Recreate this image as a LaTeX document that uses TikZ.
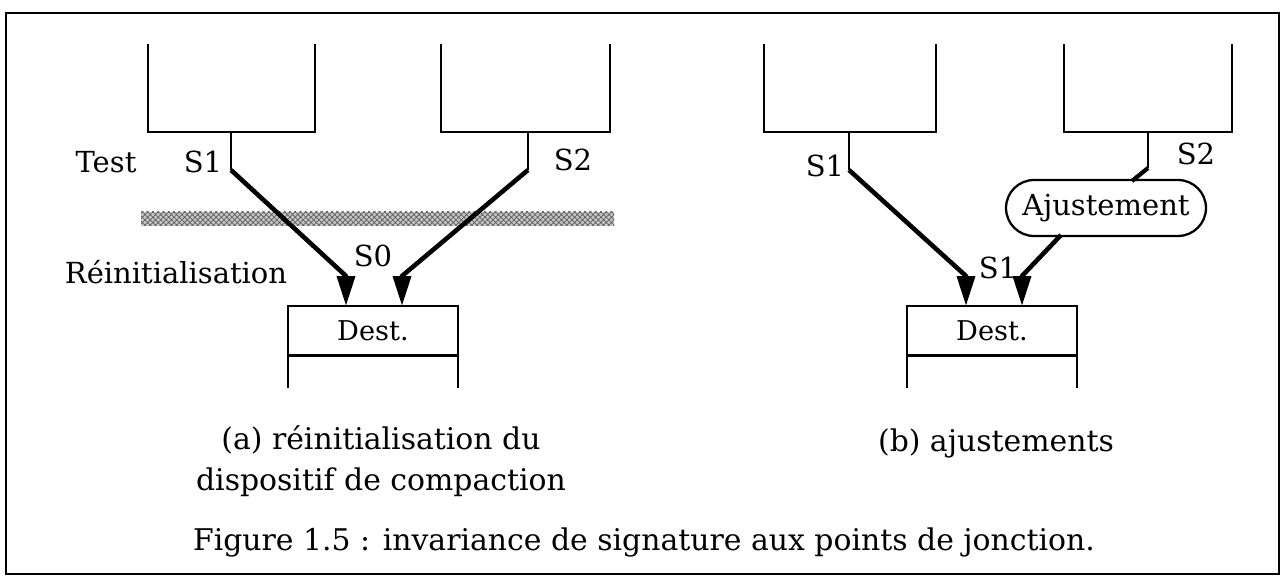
\documentclass[tikz,border=0pt]{standalone}
\usepackage{fontspec}
\setmainfont{DejaVu Serif}
\usetikzlibrary{arrows.meta,patterns,shapes.misc}
\begin{document}
\begin{tikzpicture}[x=0.02cm,y=-0.02cm,
  lbl/.style={font=\fontsize{16.5}{19}\selectfont, inner sep=0pt},
  caplbl/.style={font=\fontsize{17}{20}\selectfont, inner sep=0pt},
  openbox/.style={line width=1.2pt},
  wire/.style={line width=1.2pt},
  flow/.style={line width=2.6pt, line join=round, -{Triangle[length=17pt,width=10pt]}},
  destbox/.style={draw, line width=1.2pt, minimum width=3.4cm, minimum height=1cm, inner sep=0pt, outer sep=0pt, font=\fontsize{15.5}{18}\selectfont},
  adjbox/.style={draw, rounded rectangle, line width=1.3pt, minimum width=4cm, minimum height=1.12cm, inner sep=0pt, font=\fontsize{16.5}{19}\selectfont}
]
\useasboundingbox (0,0) rectangle (1286,581);
\draw[line width=1.3pt] (6,13) rectangle (1279,574);

% ---------- panel (a) ----------
\draw[openbox] (148,44) -- (148,132) -- (315,132) -- (315,44);
\draw[openbox] (441,44) -- (441,132) -- (610,132) -- (610,44);
\coordinate (aS1top) at (231,132);
\coordinate (aS1bend) at (231,170);
\coordinate (aS1base) at (346,276);
\coordinate (aS2top) at (528,132);
\coordinate (aS2bend) at (528,170);
\coordinate (aS2base) at (402,276);

\fill[gray!45] (141,212) rectangle (614,226);
\fill[pattern=crosshatch dots, pattern color=gray!70!black] (141,212) rectangle (614,226);
\fill[pattern=crosshatch, pattern color=gray!80!black] (141,212) rectangle (614,226);

\node[destbox, anchor=north west] (aDest) at (288,306) {Dest.};
\coordinate (aBL) at (288,388);
\coordinate (aBR) at (458,388);
\draw[openbox] (aDest.south west) -- (aDest.south west |- aBL);
\draw[openbox] (aDest.south east) -- (aDest.south east |- aBR);
\draw[line width=1.7pt] (aDest.south west) -- (aDest.south east);

\coordinate (aS1tip) at (346,306);
\coordinate (aS2tip) at (402,306);
\draw[wire] (aS1top) -- (aS1bend);
\draw[wire] (aS2top) -- (aS2bend);
\draw[flow] (aS1bend) -- (aS1base) -- (aS1tip);
\draw[flow] (aS2bend) -- (aS2base) -- (aS2tip);

\node[lbl] (aTest) at (106,162) {Test};
\node[lbl] (aS1) at (203,162) {S1};
\node[lbl] (aS2) at (573,160) {S2};
\node[lbl] (aS0) at (373,256) {S0};
\node[lbl] (aReinit) at (176,272) {Réinitialisation};

% ---------- panel (b) ----------
\draw[openbox] (764,44) -- (764,132) -- (936,132) -- (936,44);
\draw[openbox] (1064,44) -- (1064,132) -- (1232,132) -- (1232,44);
\coordinate (bS1top) at (849,132);
\coordinate (bS1bend) at (849,170);
\coordinate (bS1base) at (966,276);
\coordinate (bS1tip) at (966,306);
\coordinate (bS2top) at (1148,132);
\coordinate (bS2bend) at (1148,168);

\node[adjbox] (adj) at (1106,208) {Ajustement};
\coordinate (bAdjIn) at (1132,181);
\coordinate (bAdjOut) at (1061,235);
\coordinate (bS2base) at (1022,276);
\coordinate (bS2tip) at (1022,306);

\node[destbox, anchor=north west] (bDest) at (907,306) {Dest.};
\coordinate (bBL) at (907,388);
\coordinate (bBR) at (1078,388);
\draw[openbox] (bDest.south west) -- (bDest.south west |- bBL);
\draw[openbox] (bDest.south east) -- (bDest.south east |- bBR);
\draw[line width=1.7pt] (bDest.south west) -- (bDest.south east);

\draw[wire] (bS1top) -- (bS1bend);
\draw[flow] (bS1bend) -- (bS1base) -- (bS1tip);
\draw[wire] (bS2top) -- (bS2bend);
\draw[line width=2.4pt] (bS2bend) -- (bAdjIn);
\draw[flow] (bAdjOut) -- (bS2base) -- (bS2tip);

\node[lbl] (bS1) at (825,166) {S1};
\node[lbl] (bS2) at (1196,154) {S2};
\node[lbl] (bS1low) at (998,268) {S1};

% ---------- captions ----------
\node[caplbl, align=center] (capA) at (381,461) {(a) réinitialisation du\\[3pt]dispositif de compaction};
\node[caplbl] (capB) at (996,443) {(b) ajustements};
\node[caplbl] (capFig) at (644,542) {Figure 1.5 : invariance de signature aux points de jonction.};
\end{tikzpicture}
\end{document}
